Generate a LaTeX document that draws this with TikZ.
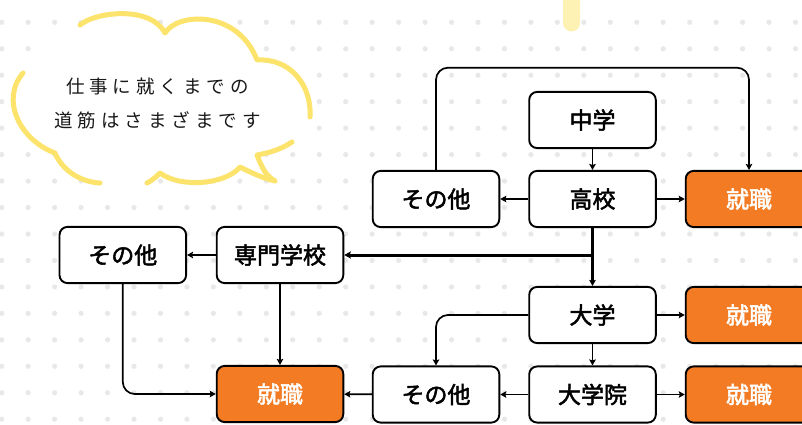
\documentclass[tikz,border=0pt]{standalone}
\usepackage{fontspec}
\setmainfont{Noto Sans CJK JP}
\newfontfamily\jpfont{Noto Sans CJK JP}
\newfontfamily\jpmed{Noto Sans CJK JP}[FakeBold=2.2]
\usetikzlibrary{arrows.meta}
\definecolor{dotgray}{HTML}{E8E8E8}
\definecolor{orng}{HTML}{F27B24}
\definecolor{cloudy}{HTML}{FCE36B}
\definecolor{tabyellow}{HTML}{FEF1B4}
\newcommand{\cldgap}{\kern5pt}
\tikzset{
  box/.style={draw=black, line width=1.9pt, rounded corners=8pt, fill=white,
    minimum width=126.6pt, minimum height=56.2pt, inner sep=0pt,
    font=\jpmed\fontsize{23pt}{23pt}\selectfont},
  jobbox/.style={box, fill=orng, text=white},
  conn/.style={line width=1.7pt, -{Stealth[length=6pt,width=6.5pt,inset=1pt]}},
  thickconn/.style={line width=3pt, -{Stealth[length=6.5pt,width=7pt,inset=1pt]}},
  midconn/.style={line width=2.2pt, -{Stealth[length=6pt,width=6.5pt,inset=1pt]}},
  cloudline/.style={draw=cloudy, line width=5pt, line cap=round, line join=round},
  cloudtext/.style={font=\jpfont\fontsize{18.5pt}{18.5pt}\selectfont, text=black!90}
}
\begin{document}
\begin{tikzpicture}[x=1pt,y=-1pt]
\useasboundingbox (0,0) rectangle (802,424);
\clip (0,0) rectangle (802,424);
\fill[white] (0,0) rectangle (802,424);
% dotted background
\foreach \i in {0,...,30}{
  \foreach \j in {0,...,15}{
    \fill[dotgray] (1.7+26.46*\i, 22.3+26.46*\j) circle (2.6);
  }
}
% yellow tab
\fill[tabyellow, rounded corners=8.4pt] (563,-12) rectangle (580,31.5);
% cloud fill
\fill[white] (80,25) .. controls (95,12) and (150,5) .. (165,33)
  .. controls (178,12) and (238,10) .. (257,60)
  .. controls (290,58) and (312,85) .. (310,117)
  .. controls (305,128) and (298,136) .. (292,142)
  .. controls (280,150) and (268,153) .. (257,155)
  .. controls (262,168) and (266,176) .. (275,181)
  .. controls (262,178) and (250,172) .. (240,167)
  .. controls (225,185) and (180,188) .. (160,173)
  .. controls (155,178) and (151,181) .. (147,183)
  .. controls (130,190) and (115,190) .. (100,183)
  .. controls (80,182) and (62,170) .. (55,153)
  .. controls (20,140) and (0,100) .. (23,73)
  .. controls (35,50) and (55,30) .. cycle;
% cloud strokes (with gaps)
\draw[cloudline] (80,25) .. controls (95,12) and (150,5) .. (165,33)
  .. controls (178,12) and (238,10) .. (257,60)
  .. controls (290,58) and (312,85) .. (310,117);
\draw[cloudline] (292,142) .. controls (280,150) and (268,153) .. (257,155)
  .. controls (262,168) and (266,176) .. (275,181)
  .. controls (262,178) and (250,172) .. (240,167)
  .. controls (225,185) and (180,188) .. (160,173)
  .. controls (155,178) and (151,181) .. (147,183);
\draw[cloudline] (100,183) .. controls (80,182) and (62,170) .. (55,153)
  .. controls (20,140) and (0,100) .. (23,73);
\node[cloudtext] (line1) at (157.5,86.7) {仕\cldgap 事\cldgap に\cldgap 就\cldgap く\cldgap ま\cldgap で\cldgap の};
\node[cloudtext] (line2) at (157.5,120) {道\cldgap 筋\cldgap は\cldgap さ\cldgap ま\cldgap ざ\cldgap ま\cldgap で\cldgap す};
% nodes
\node[box] (chu) at (592.5,120) {中学};
\node[box] (kou) at (592.5,199) {高校};
\node[box] (so1) at (436,199) {その他};
\node[jobbox] (sh1) at (749,199) {就職};
\node[box] (sen) at (280,255) {専門学校};
\node[box] (so2) at (122.8,255) {その他};
\node[box] (dai) at (592.5,315) {大学};
\node[jobbox] (sh2) at (749,315) {就職};
\node[box] (in) at (592.5,394.5) {大学院};
\node[box] (so3) at (436,394.5) {その他};
\node[jobbox] (sh3) at (749,394.5) {就職};
\node[jobbox] (sh4) at (280,394) {就職};
\coordinate (toprail) at (0,67.7);
% connectors
\draw[conn] (chu) -- (kou);
\draw[conn] (kou) -- (so1);
\draw[conn] (kou) -- (sh1);
\draw[conn, rounded corners=12pt] (so1.north) -- (so1.north |- toprail) -- (sh1.north |- toprail) -- (sh1.north);
\draw[midconn] (kou) -- (dai);
\draw[thickconn] (kou.south |- sen.east) -- (sen.east);
\draw[conn] (sen) -- (so2);
\draw[conn] (sen) -- (sh4);
\draw[conn, rounded corners=12pt] (so2.south) |- (sh4.west);
\draw[conn] (dai) -- (sh2);
\draw[conn, rounded corners=12pt] (dai.west) -| (so3.north);
\draw[conn] (dai) -- (in);
\draw[conn] (in) -- (so3);
\draw[conn] (in) -- (sh3);
\draw[conn] (so3) -- (sh4);
\end{tikzpicture}
\end{document}
